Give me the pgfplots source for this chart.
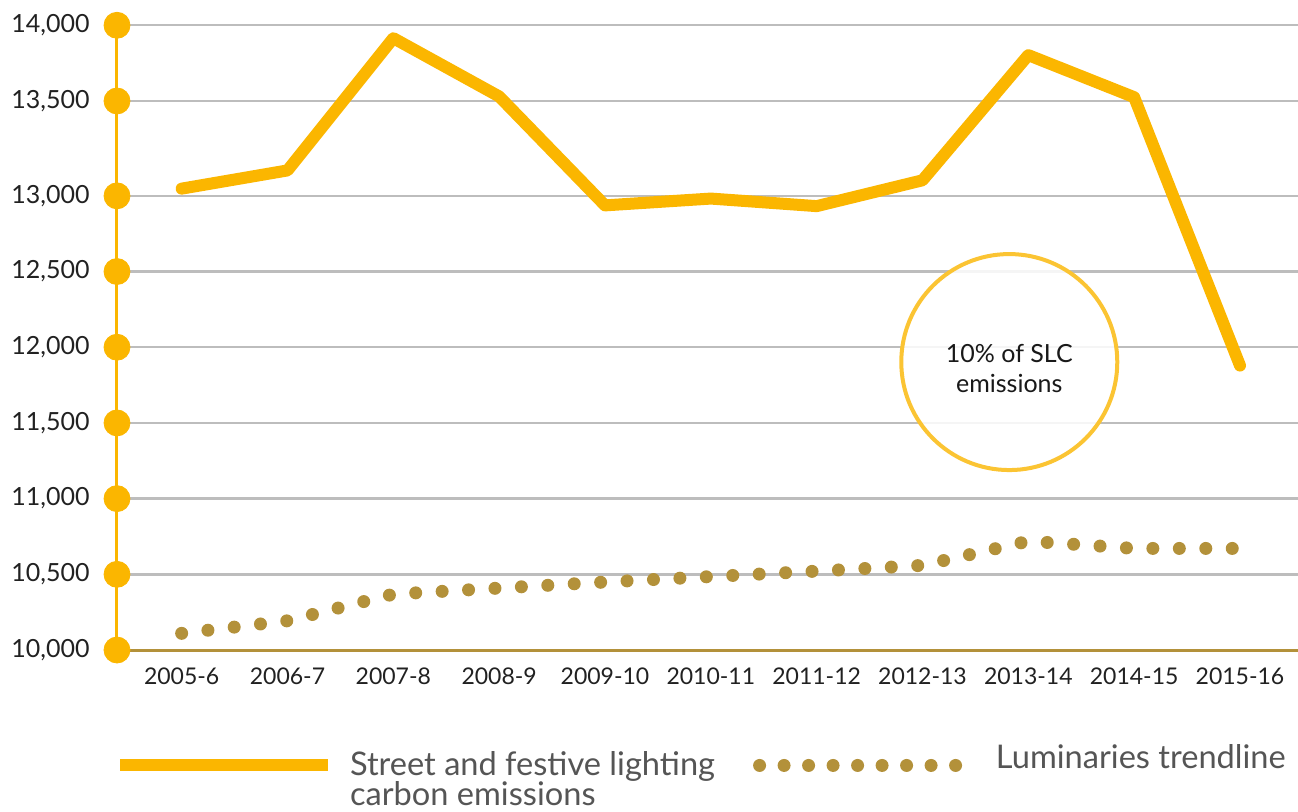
\documentclass[border=0pt]{standalone}
\usepackage{pgfplots}
\pgfplotsset{compat=1.18}
\usepackage{fontspec}
\setmainfont{Lato}
\definecolor{street}{HTML}{FBB600}
\definecolor{trend}{HTML}{B3913A}
\definecolor{circ}{HTML}{FBC433}
\definecolor{gridc}{HTML}{BDBDBD}
\definecolor{legtext}{HTML}{555555}
\begin{document}
\begin{tikzpicture}
\begin{axis}[
  scale only axis, width=590.5pt, height=312.35pt,
  xmin=-0.611, xmax=10.548,
  ymin=10000, ymax=14000,
  y coord trafo/.code={\pgfmathparse{(#1<=13000)*(#1) + (#1>13000)*(#1<=13500)*(13000+(#1-13000)*1.2532) + (#1>13500)*(#1+126.6)}},
  scaled y ticks=false, scaled x ticks=false,
  ytick={10000,10500,11000,11500,12000,12500,13000,13500,14000},
  yticklabels={10{,}000,10{,}500,11{,}000,11{,}500,12{,}000,12{,}500,13{,}000,13{,}500,14{,}000},
  xtick={0,1,2,3,4,5,6,7,8,9,10},
  xticklabels={2005-6,2006-7,2007-8,2008-9,2009-10,2010-11,2011-12,2012-13,2013-14,2014-15,2015-16},
  axis x line*=bottom, axis y line*=left,
  x axis line style={trend, line width=1.5pt, -},
  y axis line style={street, line width=1.5pt, -},
  major tick length=0pt,
  ymajorgrids, grid style={gridc, line width=1.2pt},
  clip=false,
  /pgf/number format/assume math mode=true,
  yticklabel style={font=\fontsize{12.5}{15}\selectfont, text=black!87, inner sep=0pt, xshift=-13.5pt},
  xticklabel style={font=\fontsize{11.5}{14}\selectfont, text=black!87, inner sep=0pt, yshift=-8.5pt},
  legend style={at={(-0.0025,-0.152)}, anchor=north west, draw=none, fill=none, inner sep=0pt, outer sep=0pt,
    nodes={inner sep=0pt, text=legtext, font=\fontsize{16.3}{15}\selectfont},
    /tikz/every odd column/.append style={column sep=8pt},
    /tikz/every even column/.append style={column sep=19pt}},
  legend columns=2, legend cell align=left,
]
\draw[circ, line width=2pt, fill=white, fill opacity=0.85] (axis cs:7.82,11902) circle[radius=54pt];
\node[align=center, font=\fontsize{12.5}{15}\selectfont, text=black!90, yshift=-3pt] at (axis cs:7.82,11902) {10\% of SLC\\emissions};

\addplot[trend, line width=6.5pt, line cap=round, dash pattern=on 0pt off 13.23pt, forget plot] coordinates {
(0,10110) (1,10193) (2,10369) (3,10409) (4,10449) (5,10485) (6,10521) (7,10559) (8,10719) (9,10671) (10,10671)};
\addplot[street, line width=6pt, line cap=round, line join=round, forget plot] coordinates {
(0,13038) (1,13134) (2,13915) (3,13530) (4,12937) (5,12982) (6,12932) (7,13082) (8,13803) (9,13525) (10,11879)};
\addplot[street, only marks, mark=*, mark size=6.5pt, forget plot] coordinates {
(-0.611,10000) (-0.611,10500) (-0.611,11000) (-0.611,11500) (-0.611,12000) (-0.611,12500) (-0.611,13000) (-0.611,13500) (-0.611,14000)};

\addlegendimage{legend image code/.code={\draw[street, line width=6pt] (0pt,0pt) -- (104pt,0pt);}}
\addlegendentry{\raisebox{0pt}[\height][0pt]{\vtop{\hbox{Street and festive lighting}\hbox{carbon emissions}}}}
\addlegendimage{legend image code/.code={\draw[trend, line width=6.5pt, line cap=round, dash pattern=on 0pt off 12.25pt] (0pt,0pt) -- (98.1pt,0pt); \path (110pt,0pt);}}
\addlegendentry[yshift=3.5pt]{Luminaries trendline}
\end{axis}
\pgfresetboundingbox
\path[use as bounding box] (-58.5pt,-80.5pt) rectangle (590.5pt,325pt);
\end{tikzpicture}
\end{document}
